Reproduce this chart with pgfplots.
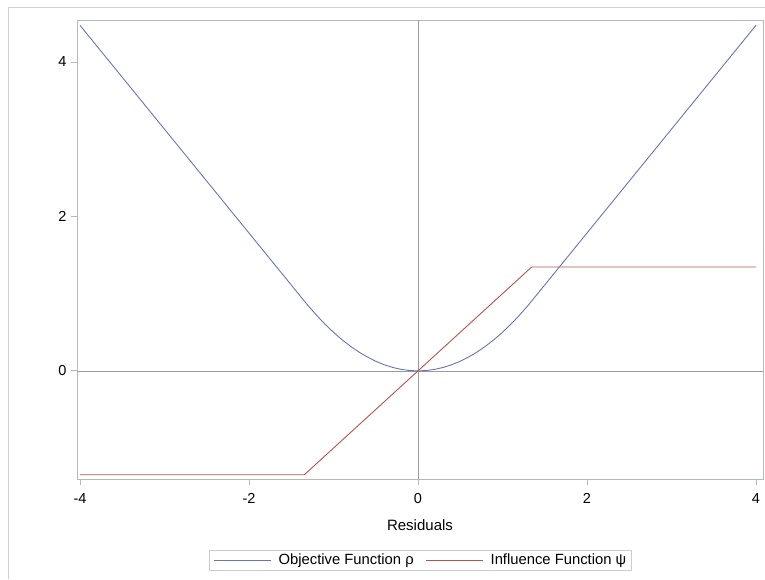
\documentclass[border=0pt]{standalone}
\usepackage{pgfplots}
\pgfplotsset{compat=1.18}
\usepackage{fontspec}
\setmainfont{Liberation Sans}
\definecolor{rhoblue}{HTML}{6676B4}
\definecolor{psired}{HTML}{B9544A}
\definecolor{framegray}{HTML}{B4B9BE}
\definecolor{refgray}{HTML}{9A9A9A}
\begin{document}
\begin{tikzpicture}[x=1pt,y=1pt]
\path[use as bounding box] (0,0) rectangle (765,579);
\draw[black!18, line width=0.8pt] (8,0) -- (8,572) -- (765,572);
\begin{axis}[
  at={(77pt,100pt)}, anchor=south west,
  scale only axis, width=686pt, height=459pt,
  xmin=-4.035, xmax=4.083, ymin=-1.40, ymax=4.544,
  xtick={-4,-2,0,2,4}, ytick={0,2,4},
  axis line style={framegray, line width=0.8pt},
  tick style={framegray, line width=0.8pt},
  tick align=outside, major tick length=6pt,
  xtick pos=bottom, ytick pos=left,
  /pgf/number format/assume math mode=true,
  ticklabel style={font=\fontsize{14.5}{16}\selectfont},
  xticklabel style={yshift=-5pt},
  yticklabel style={xshift=-1pt},
  xlabel={Residuals},
  xlabel style={font=\fontsize{15}{16}\selectfont, yshift=-9pt},
  legend columns=2,
  legend style={at={(0.5,-0.1765)}, anchor=center, draw=black!20,
    font=\fontsize{14.8}{16}\selectfont, inner xsep=5pt, inner ysep=1pt,
    nodes={inner xsep=0pt, inner ysep=3pt},
    /tikz/every odd column/.append style={column sep=7pt},
    /tikz/every even column/.append style={column sep=12pt}},
  legend image code/.code={\draw[#1] (0pt,0pt) -- (57pt,0pt);},
]
\draw[refgray, line width=0.7pt] (axis cs:0,-1.40) -- (axis cs:0,4.544);
\draw[refgray, line width=0.7pt] (axis cs:-4.035,0) -- (axis cs:4.083,0);
\addplot[color=rhoblue, draw=rhoblue, line width=0.9pt] coordinates {
(-4,4.4755) (-3,3.1305) (-2,1.7855) (-1.345,0.9045)
(-1.3,0.845) (-1.2,0.72) (-1.1,0.605) (-1.0,0.5) (-0.9,0.405) (-0.8,0.32)
(-0.7,0.245) (-0.6,0.18) (-0.5,0.125) (-0.4,0.08) (-0.3,0.045) (-0.2,0.02)
(-0.1,0.005) (0,0) (0.1,0.005) (0.2,0.02) (0.3,0.045) (0.4,0.08) (0.5,0.125)
(0.6,0.18) (0.7,0.245) (0.8,0.32) (0.9,0.405) (1.0,0.5) (1.1,0.605) (1.2,0.72)
(1.3,0.845) (1.345,0.9045) (2,1.7855) (3,3.1305) (4,4.4755)
};
\addlegendentry{Objective Function ρ}
\addplot[color=psired, draw=psired, line width=0.9pt] coordinates {
(-4,-1.345) (-1.345,-1.345) (1.345,1.345) (4,1.345)
};
\addlegendentry{Influence Function ψ}
\end{axis}
\end{tikzpicture}
\end{document}
